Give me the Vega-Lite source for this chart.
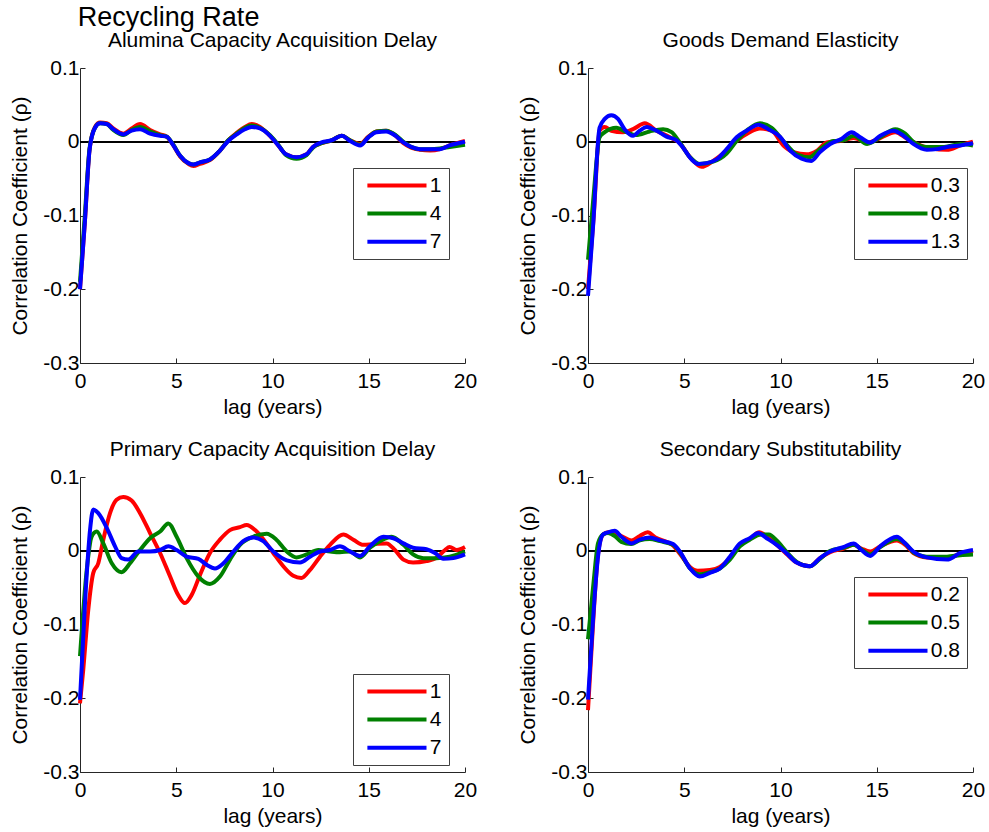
{
  "$schema": "https://vega.github.io/schema/vega-lite/v6.json",
  "background": "white",
  "padding": {"left": 9, "top": 4, "right": 5, "bottom": 5},
  "title": {"text": "Recycling Rate", "anchor": "start", "fontSize": 27, "fontWeight": "normal", "font": "Liberation Sans", "color": "black", "dx": 68, "offset": -2},
  "config": {
    "font": "Liberation Sans",
    "view": {"stroke": null},
    "axis": {
      "grid": false,
      "labelFlush": false,
      "domainColor": "#262626",
      "tickColor": "#262626",
      "tickSize": -5,
      "labelFont": "Liberation Sans",
      "labelFontSize": 21,
      "labelColor": "black",
      "titleFont": "Liberation Sans",
      "titleFontSize": 21,
      "titleFontWeight": "normal",
      "titleColor": "black"
    },
    "axisX": {"labelPadding": 12, "titlePadding": 5},
    "axisY": {"labelPadding": 6, "titlePadding": 12},
    "title": {"font": "Liberation Sans", "fontSize": 21, "fontWeight": "normal", "color": "black", "offset": 6},
    "legend": {
      "orient": "none",
      "strokeColor": "#404040",
      "fillColor": "white",
      "padding": 7,
      "symbolType": "M-0.39,0H7",
      "symbolSize": 256,
      "symbolStrokeWidth": 4,
      "labelFont": "Liberation Sans",
      "labelFontSize": 21,
      "labelColor": "black",
      "labelOffset": 48.7,
      "rowPadding": 6.1
    },
    "line": {"strokeWidth": 4, "interpolate": "monotone"}
  },
  "resolve": {"scale": {"color": "independent"}, "legend": {"color": "independent"}},
  "spacing": 22,
  "datasets": {
    "p1": [
      {"lag": 0, "rho": -0.2, "param": "1"}, {"lag": 0.25, "rho": -0.11, "param": "1"}, {"lag": 0.5, "rho": -0.01, "param": "1"}, {"lag": 0.78, "rho": 0.02, "param": "1"}, {"lag": 1.04, "rho": 0.026, "param": "1"}, {"lag": 1.39, "rho": 0.025, "param": "1"}, {"lag": 1.73, "rho": 0.018, "param": "1"}, {"lag": 2.25, "rho": 0.011, "param": "1"}, {"lag": 2.68, "rho": 0.018, "param": "1"}, {"lag": 3.12, "rho": 0.024, "param": "1"}, {"lag": 3.64, "rho": 0.016, "param": "1"}, {"lag": 4.16, "rho": 0.01, "param": "1"}, {"lag": 4.5, "rho": 0.007, "param": "1"}, {"lag": 4.85, "rho": -0.005, "param": "1"}, {"lag": 5.2, "rho": -0.02, "param": "1"}, {"lag": 5.63, "rho": -0.03, "param": "1"}, {"lag": 5.89, "rho": -0.033, "param": "1"}, {"lag": 6.23, "rho": -0.03, "param": "1"}, {"lag": 6.75, "rho": -0.025, "param": "1"}, {"lag": 7.27, "rho": -0.012, "param": "1"}, {"lag": 7.7, "rho": 0.002, "param": "1"}, {"lag": 8.14, "rho": 0.012, "param": "1"}, {"lag": 8.57, "rho": 0.02, "param": "1"}, {"lag": 8.92, "rho": 0.024, "param": "1"}, {"lag": 9.35, "rho": 0.02, "param": "1"}, {"lag": 9.87, "rho": 0.008, "param": "1"}, {"lag": 10.3, "rho": -0.005, "param": "1"}, {"lag": 10.7, "rho": -0.017, "param": "1"}, {"lag": 11.25, "rho": -0.021, "param": "1"}, {"lag": 11.77, "rho": -0.017, "param": "1"}, {"lag": 12.1, "rho": -0.007, "param": "1"}, {"lag": 12.55, "rho": -0.002, "param": "1"}, {"lag": 13.07, "rho": 0.002, "param": "1"}, {"lag": 13.6, "rho": 0.008, "param": "1"}, {"lag": 14.03, "rho": 0.002, "param": "1"}, {"lag": 14.55, "rho": -0.003, "param": "1"}, {"lag": 14.98, "rho": 0.007, "param": "1"}, {"lag": 15.4, "rho": 0.014, "param": "1"}, {"lag": 15.9, "rho": 0.015, "param": "1"}, {"lag": 16.4, "rho": 0.008, "param": "1"}, {"lag": 16.8, "rho": -0.002, "param": "1"}, {"lag": 17.2, "rho": -0.008, "param": "1"}, {"lag": 17.66, "rho": -0.011, "param": "1"}, {"lag": 18.2, "rho": -0.012, "param": "1"}, {"lag": 18.7, "rho": -0.01, "param": "1"}, {"lag": 19.2, "rho": -0.005, "param": "1"}, {"lag": 20, "rho": 0.001, "param": "1"},
      {"lag": 0, "rho": -0.19, "param": "4"}, {"lag": 0.25, "rho": -0.1, "param": "4"}, {"lag": 0.5, "rho": -0.008, "param": "4"}, {"lag": 0.78, "rho": 0.019, "param": "4"}, {"lag": 1.04, "rho": 0.025, "param": "4"}, {"lag": 1.39, "rho": 0.024, "param": "4"}, {"lag": 1.73, "rho": 0.016, "param": "4"}, {"lag": 2.25, "rho": 0.009, "param": "4"}, {"lag": 2.68, "rho": 0.016, "param": "4"}, {"lag": 3.12, "rho": 0.02, "param": "4"}, {"lag": 3.64, "rho": 0.014, "param": "4"}, {"lag": 4.16, "rho": 0.009, "param": "4"}, {"lag": 4.5, "rho": 0.007, "param": "4"}, {"lag": 4.85, "rho": -0.004, "param": "4"}, {"lag": 5.2, "rho": -0.019, "param": "4"}, {"lag": 5.63, "rho": -0.029, "param": "4"}, {"lag": 5.89, "rho": -0.031, "param": "4"}, {"lag": 6.23, "rho": -0.028, "param": "4"}, {"lag": 6.75, "rho": -0.024, "param": "4"}, {"lag": 7.27, "rho": -0.012, "param": "4"}, {"lag": 7.7, "rho": 0.002, "param": "4"}, {"lag": 8.14, "rho": 0.011, "param": "4"}, {"lag": 8.57, "rho": 0.019, "param": "4"}, {"lag": 8.92, "rho": 0.022, "param": "4"}, {"lag": 9.35, "rho": 0.019, "param": "4"}, {"lag": 9.87, "rho": 0.009, "param": "4"}, {"lag": 10.3, "rho": -0.004, "param": "4"}, {"lag": 10.7, "rho": -0.018, "param": "4"}, {"lag": 11.25, "rho": -0.023, "param": "4"}, {"lag": 11.77, "rho": -0.018, "param": "4"}, {"lag": 12.1, "rho": -0.008, "param": "4"}, {"lag": 12.55, "rho": -0.002, "param": "4"}, {"lag": 13.07, "rho": 0.002, "param": "4"}, {"lag": 13.6, "rho": 0.008, "param": "4"}, {"lag": 14.03, "rho": 0.002, "param": "4"}, {"lag": 14.55, "rho": -0.004, "param": "4"}, {"lag": 14.98, "rho": 0.006, "param": "4"}, {"lag": 15.4, "rho": 0.014, "param": "4"}, {"lag": 15.9, "rho": 0.015, "param": "4"}, {"lag": 16.4, "rho": 0.009, "param": "4"}, {"lag": 16.8, "rho": 0.0, "param": "4"}, {"lag": 17.2, "rho": -0.007, "param": "4"}, {"lag": 17.66, "rho": -0.01, "param": "4"}, {"lag": 18.2, "rho": -0.01, "param": "4"}, {"lag": 18.7, "rho": -0.009, "param": "4"}, {"lag": 19.2, "rho": -0.007, "param": "4"}, {"lag": 20, "rho": -0.004, "param": "4"},
      {"lag": 0, "rho": -0.2, "param": "7"}, {"lag": 0.25, "rho": -0.11, "param": "7"}, {"lag": 0.5, "rho": -0.01, "param": "7"}, {"lag": 0.78, "rho": 0.019, "param": "7"}, {"lag": 1.04, "rho": 0.025, "param": "7"}, {"lag": 1.39, "rho": 0.024, "param": "7"}, {"lag": 1.73, "rho": 0.017, "param": "7"}, {"lag": 2.25, "rho": 0.01, "param": "7"}, {"lag": 2.68, "rho": 0.015, "param": "7"}, {"lag": 3.12, "rho": 0.017, "param": "7"}, {"lag": 3.64, "rho": 0.011, "param": "7"}, {"lag": 4.16, "rho": 0.008, "param": "7"}, {"lag": 4.5, "rho": 0.007, "param": "7"}, {"lag": 4.85, "rho": -0.005, "param": "7"}, {"lag": 5.2, "rho": -0.019, "param": "7"}, {"lag": 5.63, "rho": -0.029, "param": "7"}, {"lag": 5.89, "rho": -0.031, "param": "7"}, {"lag": 6.23, "rho": -0.028, "param": "7"}, {"lag": 6.75, "rho": -0.024, "param": "7"}, {"lag": 7.27, "rho": -0.012, "param": "7"}, {"lag": 7.7, "rho": 0.001, "param": "7"}, {"lag": 8.14, "rho": 0.01, "param": "7"}, {"lag": 8.57, "rho": 0.017, "param": "7"}, {"lag": 8.92, "rho": 0.02, "param": "7"}, {"lag": 9.35, "rho": 0.018, "param": "7"}, {"lag": 9.87, "rho": 0.008, "param": "7"}, {"lag": 10.3, "rho": -0.005, "param": "7"}, {"lag": 10.7, "rho": -0.017, "param": "7"}, {"lag": 11.25, "rho": -0.021, "param": "7"}, {"lag": 11.77, "rho": -0.017, "param": "7"}, {"lag": 12.1, "rho": -0.007, "param": "7"}, {"lag": 12.55, "rho": -0.001, "param": "7"}, {"lag": 13.07, "rho": 0.002, "param": "7"}, {"lag": 13.6, "rho": 0.008, "param": "7"}, {"lag": 14.03, "rho": 0.001, "param": "7"}, {"lag": 14.55, "rho": -0.005, "param": "7"}, {"lag": 14.98, "rho": 0.006, "param": "7"}, {"lag": 15.4, "rho": 0.013, "param": "7"}, {"lag": 15.9, "rho": 0.014, "param": "7"}, {"lag": 16.4, "rho": 0.008, "param": "7"}, {"lag": 16.8, "rho": -0.001, "param": "7"}, {"lag": 17.2, "rho": -0.007, "param": "7"}, {"lag": 17.66, "rho": -0.01, "param": "7"}, {"lag": 18.2, "rho": -0.01, "param": "7"}, {"lag": 18.7, "rho": -0.01, "param": "7"}, {"lag": 19.2, "rho": -0.005, "param": "7"}, {"lag": 20, "rho": 0.0, "param": "7"}
    ],
    "p2": [
      {"lag": 0, "rho": -0.2, "param": "0.3"}, {"lag": 0.3, "rho": -0.1, "param": "0.3"}, {"lag": 0.6, "rho": 0.015, "param": "0.3"}, {"lag": 0.87, "rho": 0.02, "param": "0.3"}, {"lag": 1.21, "rho": 0.015, "param": "0.3"}, {"lag": 1.82, "rho": 0.013, "param": "0.3"}, {"lag": 2.34, "rho": 0.017, "param": "0.3"}, {"lag": 2.95, "rho": 0.025, "param": "0.3"}, {"lag": 3.56, "rho": 0.015, "param": "0.3"}, {"lag": 4.25, "rho": 0.006, "param": "0.3"}, {"lag": 4.77, "rho": -0.002, "param": "0.3"}, {"lag": 5.3, "rho": -0.021, "param": "0.3"}, {"lag": 5.9, "rho": -0.034, "param": "0.3"}, {"lag": 6.5, "rho": -0.026, "param": "0.3"}, {"lag": 7.2, "rho": -0.012, "param": "0.3"}, {"lag": 7.72, "rho": 0.001, "param": "0.3"}, {"lag": 8.4, "rho": 0.013, "param": "0.3"}, {"lag": 8.93, "rho": 0.018, "param": "0.3"}, {"lag": 9.54, "rho": 0.015, "param": "0.3"}, {"lag": 10.15, "rho": -0.005, "param": "0.3"}, {"lag": 10.67, "rho": -0.014, "param": "0.3"}, {"lag": 11.36, "rho": -0.017, "param": "0.3"}, {"lag": 11.9, "rho": -0.012, "param": "0.3"}, {"lag": 12.4, "rho": -0.001, "param": "0.3"}, {"lag": 13.1, "rho": 0.001, "param": "0.3"}, {"lag": 13.8, "rho": 0.005, "param": "0.3"}, {"lag": 14.5, "rho": -0.001, "param": "0.3"}, {"lag": 15.18, "rho": 0.005, "param": "0.3"}, {"lag": 15.96, "rho": 0.013, "param": "0.3"}, {"lag": 16.57, "rho": 0.004, "param": "0.3"}, {"lag": 17.1, "rho": -0.003, "param": "0.3"}, {"lag": 17.8, "rho": -0.009, "param": "0.3"}, {"lag": 18.65, "rho": -0.011, "param": "0.3"}, {"lag": 19.34, "rho": -0.005, "param": "0.3"}, {"lag": 20, "rho": 0.0, "param": "0.3"},
      {"lag": 0, "rho": -0.16, "param": "0.8"}, {"lag": 0.3, "rho": -0.07, "param": "0.8"}, {"lag": 0.6, "rho": 0.006, "param": "0.8"}, {"lag": 0.87, "rho": 0.013, "param": "0.8"}, {"lag": 1.47, "rho": 0.019, "param": "0.8"}, {"lag": 2.0, "rho": 0.013, "param": "0.8"}, {"lag": 2.5, "rho": 0.009, "param": "0.8"}, {"lag": 3.2, "rho": 0.014, "param": "0.8"}, {"lag": 3.9, "rho": 0.017, "param": "0.8"}, {"lag": 4.34, "rho": 0.013, "param": "0.8"}, {"lag": 4.77, "rho": -0.001, "param": "0.8"}, {"lag": 5.3, "rho": -0.021, "param": "0.8"}, {"lag": 5.8, "rho": -0.03, "param": "0.8"}, {"lag": 6.5, "rho": -0.027, "param": "0.8"}, {"lag": 7.2, "rho": -0.016, "param": "0.8"}, {"lag": 7.72, "rho": 0.001, "param": "0.8"}, {"lag": 8.33, "rho": 0.017, "param": "0.8"}, {"lag": 8.93, "rho": 0.025, "param": "0.8"}, {"lag": 9.54, "rho": 0.019, "param": "0.8"}, {"lag": 10.15, "rho": 0.001, "param": "0.8"}, {"lag": 10.84, "rho": -0.017, "param": "0.8"}, {"lag": 11.5, "rho": -0.021, "param": "0.8"}, {"lag": 12.05, "rho": -0.01, "param": "0.8"}, {"lag": 12.75, "rho": 0.001, "param": "0.8"}, {"lag": 13.27, "rho": 0.002, "param": "0.8"}, {"lag": 13.8, "rho": 0.008, "param": "0.8"}, {"lag": 14.5, "rho": -0.003, "param": "0.8"}, {"lag": 15.18, "rho": 0.006, "param": "0.8"}, {"lag": 15.96, "rho": 0.017, "param": "0.8"}, {"lag": 16.48, "rho": 0.011, "param": "0.8"}, {"lag": 16.9, "rho": 0.0, "param": "0.8"}, {"lag": 17.6, "rho": -0.007, "param": "0.8"}, {"lag": 18.5, "rho": -0.007, "param": "0.8"}, {"lag": 19.34, "rho": -0.003, "param": "0.8"}, {"lag": 20, "rho": -0.005, "param": "0.8"},
      {"lag": 0, "rho": -0.209, "param": "1.3"}, {"lag": 0.26, "rho": -0.116, "param": "1.3"}, {"lag": 0.6, "rho": 0.019, "param": "1.3"}, {"lag": 0.87, "rho": 0.031, "param": "1.3"}, {"lag": 1.21, "rho": 0.036, "param": "1.3"}, {"lag": 1.56, "rho": 0.031, "param": "1.3"}, {"lag": 1.9, "rho": 0.017, "param": "1.3"}, {"lag": 2.34, "rho": 0.008, "param": "1.3"}, {"lag": 2.69, "rho": 0.015, "param": "1.3"}, {"lag": 3.04, "rho": 0.02, "param": "1.3"}, {"lag": 3.56, "rho": 0.015, "param": "1.3"}, {"lag": 4.08, "rho": 0.007, "param": "1.3"}, {"lag": 4.6, "rho": 0.002, "param": "1.3"}, {"lag": 4.94, "rho": -0.008, "param": "1.3"}, {"lag": 5.38, "rho": -0.024, "param": "1.3"}, {"lag": 5.72, "rho": -0.03, "param": "1.3"}, {"lag": 6.16, "rho": -0.029, "param": "1.3"}, {"lag": 6.68, "rho": -0.024, "param": "1.3"}, {"lag": 7.2, "rho": -0.01, "param": "1.3"}, {"lag": 7.72, "rho": 0.006, "param": "1.3"}, {"lag": 8.24, "rho": 0.015, "param": "1.3"}, {"lag": 8.85, "rho": 0.023, "param": "1.3"}, {"lag": 9.37, "rho": 0.017, "param": "1.3"}, {"lag": 9.97, "rho": 0.007, "param": "1.3"}, {"lag": 10.5, "rho": -0.012, "param": "1.3"}, {"lag": 11.1, "rho": -0.023, "param": "1.3"}, {"lag": 11.6, "rho": -0.026, "param": "1.3"}, {"lag": 12.05, "rho": -0.014, "param": "1.3"}, {"lag": 12.58, "rho": -0.003, "param": "1.3"}, {"lag": 13.18, "rho": 0.004, "param": "1.3"}, {"lag": 13.7, "rho": 0.013, "param": "1.3"}, {"lag": 14.14, "rho": 0.006, "param": "1.3"}, {"lag": 14.66, "rho": -0.001, "param": "1.3"}, {"lag": 15.18, "rho": 0.008, "param": "1.3"}, {"lag": 15.87, "rho": 0.015, "param": "1.3"}, {"lag": 16.4, "rho": 0.008, "param": "1.3"}, {"lag": 16.9, "rho": -0.003, "param": "1.3"}, {"lag": 17.6, "rho": -0.011, "param": "1.3"}, {"lag": 18.13, "rho": -0.01, "param": "1.3"}, {"lag": 18.65, "rho": -0.007, "param": "1.3"}, {"lag": 19.34, "rho": -0.005, "param": "1.3"}, {"lag": 20, "rho": -0.002, "param": "1.3"}
    ],
    "p3": [
      {"lag": 0, "rho": -0.207, "param": "1"}, {"lag": 0.17, "rho": -0.161, "param": "1"}, {"lag": 0.43, "rho": -0.08, "param": "1"}, {"lag": 0.69, "rho": -0.03, "param": "1"}, {"lag": 0.95, "rho": -0.017, "param": "1"}, {"lag": 1.21, "rho": 0.015, "param": "1"}, {"lag": 1.56, "rho": 0.051, "param": "1"}, {"lag": 1.9, "rho": 0.069, "param": "1"}, {"lag": 2.25, "rho": 0.073, "param": "1"}, {"lag": 2.68, "rho": 0.068, "param": "1"}, {"lag": 3.12, "rho": 0.051, "param": "1"}, {"lag": 3.64, "rho": 0.024, "param": "1"}, {"lag": 4.16, "rho": -0.003, "param": "1"}, {"lag": 4.68, "rho": -0.035, "param": "1"}, {"lag": 5.1, "rho": -0.06, "param": "1"}, {"lag": 5.45, "rho": -0.071, "param": "1"}, {"lag": 5.8, "rho": -0.06, "param": "1"}, {"lag": 6.23, "rho": -0.033, "param": "1"}, {"lag": 6.75, "rho": -0.003, "param": "1"}, {"lag": 7.27, "rho": 0.015, "param": "1"}, {"lag": 7.79, "rho": 0.028, "param": "1"}, {"lag": 8.31, "rho": 0.032, "param": "1"}, {"lag": 8.66, "rho": 0.035, "param": "1"}, {"lag": 9.1, "rho": 0.028, "param": "1"}, {"lag": 9.6, "rho": 0.013, "param": "1"}, {"lag": 10.04, "rho": -0.003, "param": "1"}, {"lag": 10.56, "rho": -0.021, "param": "1"}, {"lag": 11.08, "rho": -0.034, "param": "1"}, {"lag": 11.5, "rho": -0.037, "param": "1"}, {"lag": 11.95, "rho": -0.026, "param": "1"}, {"lag": 12.47, "rho": -0.008, "param": "1"}, {"lag": 12.99, "rho": 0.008, "param": "1"}, {"lag": 13.68, "rho": 0.022, "param": "1"}, {"lag": 14.2, "rho": 0.015, "param": "1"}, {"lag": 14.72, "rho": 0.008, "param": "1"}, {"lag": 15.24, "rho": 0.009, "param": "1"}, {"lag": 15.93, "rho": 0.01, "param": "1"}, {"lag": 16.36, "rho": 0.001, "param": "1"}, {"lag": 16.8, "rho": -0.012, "param": "1"}, {"lag": 17.3, "rho": -0.016, "param": "1"}, {"lag": 18.0, "rho": -0.014, "param": "1"}, {"lag": 18.5, "rho": -0.01, "param": "1"}, {"lag": 18.96, "rho": 0.001, "param": "1"}, {"lag": 19.2, "rho": 0.005, "param": "1"}, {"lag": 19.57, "rho": 0.001, "param": "1"}, {"lag": 20, "rho": 0.005, "param": "1"},
      {"lag": 0, "rho": -0.143, "param": "4"}, {"lag": 0.35, "rho": -0.026, "param": "4"}, {"lag": 0.6, "rho": 0.019, "param": "4"}, {"lag": 0.87, "rho": 0.026, "param": "4"}, {"lag": 1.21, "rho": 0.01, "param": "4"}, {"lag": 1.65, "rho": -0.017, "param": "4"}, {"lag": 2.16, "rho": -0.029, "param": "4"}, {"lag": 2.6, "rho": -0.017, "param": "4"}, {"lag": 3.12, "rho": 0.001, "param": "4"}, {"lag": 3.64, "rho": 0.017, "param": "4"}, {"lag": 4.16, "rho": 0.026, "param": "4"}, {"lag": 4.59, "rho": 0.037, "param": "4"}, {"lag": 5.02, "rho": 0.019, "param": "4"}, {"lag": 5.54, "rho": -0.01, "param": "4"}, {"lag": 6.15, "rho": -0.035, "param": "4"}, {"lag": 6.75, "rho": -0.045, "param": "4"}, {"lag": 7.27, "rho": -0.035, "param": "4"}, {"lag": 7.79, "rho": -0.012, "param": "4"}, {"lag": 8.31, "rho": 0.008, "param": "4"}, {"lag": 9.0, "rho": 0.019, "param": "4"}, {"lag": 9.7, "rho": 0.023, "param": "4"}, {"lag": 10.2, "rho": 0.015, "param": "4"}, {"lag": 10.74, "rho": -0.001, "param": "4"}, {"lag": 11.25, "rho": -0.009, "param": "4"}, {"lag": 11.77, "rho": -0.005, "param": "4"}, {"lag": 12.38, "rho": 0.001, "param": "4"}, {"lag": 12.99, "rho": -0.001, "param": "4"}, {"lag": 13.5, "rho": -0.002, "param": "4"}, {"lag": 14.03, "rho": -0.001, "param": "4"}, {"lag": 14.55, "rho": -0.009, "param": "4"}, {"lag": 15.06, "rho": 0.004, "param": "4"}, {"lag": 15.58, "rho": 0.013, "param": "4"}, {"lag": 16.19, "rho": 0.019, "param": "4"}, {"lag": 16.8, "rho": 0.008, "param": "4"}, {"lag": 17.3, "rho": -0.005, "param": "4"}, {"lag": 17.84, "rho": -0.01, "param": "4"}, {"lag": 18.5, "rho": -0.01, "param": "4"}, {"lag": 19.2, "rho": -0.008, "param": "4"}, {"lag": 20, "rho": -0.001, "param": "4"},
      {"lag": 0, "rho": -0.202, "param": "7"}, {"lag": 0.26, "rho": -0.071, "param": "7"}, {"lag": 0.52, "rho": 0.028, "param": "7"}, {"lag": 0.69, "rho": 0.056, "param": "7"}, {"lag": 0.95, "rho": 0.051, "param": "7"}, {"lag": 1.39, "rho": 0.031, "param": "7"}, {"lag": 1.82, "rho": 0.006, "param": "7"}, {"lag": 2.16, "rho": -0.01, "param": "7"}, {"lag": 2.51, "rho": -0.012, "param": "7"}, {"lag": 3.03, "rho": -0.001, "param": "7"}, {"lag": 3.64, "rho": -0.001, "param": "7"}, {"lag": 4.16, "rho": 0.001, "param": "7"}, {"lag": 4.59, "rho": 0.006, "param": "7"}, {"lag": 5.02, "rho": 0.001, "param": "7"}, {"lag": 5.54, "rho": -0.008, "param": "7"}, {"lag": 6.15, "rho": -0.011, "param": "7"}, {"lag": 6.58, "rho": -0.019, "param": "7"}, {"lag": 7.01, "rho": -0.024, "param": "7"}, {"lag": 7.45, "rho": -0.017, "param": "7"}, {"lag": 7.97, "rho": -0.001, "param": "7"}, {"lag": 8.48, "rho": 0.013, "param": "7"}, {"lag": 9.0, "rho": 0.018, "param": "7"}, {"lag": 9.52, "rho": 0.013, "param": "7"}, {"lag": 10.04, "rho": -0.001, "param": "7"}, {"lag": 10.74, "rho": -0.013, "param": "7"}, {"lag": 11.43, "rho": -0.016, "param": "7"}, {"lag": 11.95, "rho": -0.008, "param": "7"}, {"lag": 12.47, "rho": -0.001, "param": "7"}, {"lag": 12.99, "rho": 0.001, "param": "7"}, {"lag": 13.5, "rho": 0.006, "param": "7"}, {"lag": 14.03, "rho": -0.001, "param": "7"}, {"lag": 14.55, "rho": -0.007, "param": "7"}, {"lag": 15.06, "rho": 0.006, "param": "7"}, {"lag": 15.76, "rho": 0.019, "param": "7"}, {"lag": 16.28, "rho": 0.017, "param": "7"}, {"lag": 16.8, "rho": 0.01, "param": "7"}, {"lag": 17.3, "rho": 0.004, "param": "7"}, {"lag": 18.0, "rho": 0.002, "param": "7"}, {"lag": 18.44, "rho": -0.003, "param": "7"}, {"lag": 18.87, "rho": -0.011, "param": "7"}, {"lag": 19.4, "rho": -0.01, "param": "7"}, {"lag": 20, "rho": -0.005, "param": "7"}
    ],
    "p4": [
      {"lag": 0, "rho": -0.216, "param": "0.2"}, {"lag": 0.26, "rho": -0.1, "param": "0.2"}, {"lag": 0.52, "rho": -0.005, "param": "0.2"}, {"lag": 0.78, "rho": 0.022, "param": "0.2"}, {"lag": 1.04, "rho": 0.025, "param": "0.2"}, {"lag": 1.39, "rho": 0.024, "param": "0.2"}, {"lag": 1.73, "rho": 0.02, "param": "0.2"}, {"lag": 2.25, "rho": 0.014, "param": "0.2"}, {"lag": 2.69, "rho": 0.02, "param": "0.2"}, {"lag": 3.1, "rho": 0.025, "param": "0.2"}, {"lag": 3.5, "rho": 0.018, "param": "0.2"}, {"lag": 4.42, "rho": 0.007, "param": "0.2"}, {"lag": 4.77, "rho": -0.004, "param": "0.2"}, {"lag": 5.3, "rho": -0.022, "param": "0.2"}, {"lag": 5.7, "rho": -0.027, "param": "0.2"}, {"lag": 6.33, "rho": -0.026, "param": "0.2"}, {"lag": 6.85, "rho": -0.022, "param": "0.2"}, {"lag": 7.37, "rho": -0.01, "param": "0.2"}, {"lag": 7.89, "rho": 0.008, "param": "0.2"}, {"lag": 8.4, "rho": 0.016, "param": "0.2"}, {"lag": 8.9, "rho": 0.025, "param": "0.2"}, {"lag": 9.3, "rho": 0.019, "param": "0.2"}, {"lag": 9.8, "rho": 0.008, "param": "0.2"}, {"lag": 10.3, "rho": -0.004, "param": "0.2"}, {"lag": 10.84, "rho": -0.016, "param": "0.2"}, {"lag": 11.53, "rho": -0.021, "param": "0.2"}, {"lag": 12.05, "rho": -0.01, "param": "0.2"}, {"lag": 12.58, "rho": -0.002, "param": "0.2"}, {"lag": 13.27, "rho": 0.003, "param": "0.2"}, {"lag": 13.8, "rho": 0.008, "param": "0.2"}, {"lag": 14.2, "rho": 0.003, "param": "0.2"}, {"lag": 14.66, "rho": -0.001, "param": "0.2"}, {"lag": 15.18, "rho": 0.006, "param": "0.2"}, {"lag": 16.04, "rho": 0.014, "param": "0.2"}, {"lag": 16.48, "rho": 0.008, "param": "0.2"}, {"lag": 16.9, "rho": -0.003, "param": "0.2"}, {"lag": 17.6, "rho": -0.009, "param": "0.2"}, {"lag": 18.65, "rho": -0.01, "param": "0.2"}, {"lag": 19.34, "rho": -0.004, "param": "0.2"}, {"lag": 20, "rho": 0.0, "param": "0.2"},
      {"lag": 0, "rho": -0.12, "param": "0.5"}, {"lag": 0.3, "rho": -0.04, "param": "0.5"}, {"lag": 0.52, "rho": 0.01, "param": "0.5"}, {"lag": 0.78, "rho": 0.022, "param": "0.5"}, {"lag": 1.04, "rho": 0.024, "param": "0.5"}, {"lag": 1.39, "rho": 0.02, "param": "0.5"}, {"lag": 1.73, "rho": 0.012, "param": "0.5"}, {"lag": 2.25, "rho": 0.009, "param": "0.5"}, {"lag": 2.69, "rho": 0.014, "param": "0.5"}, {"lag": 3.2, "rho": 0.016, "param": "0.5"}, {"lag": 3.73, "rho": 0.013, "param": "0.5"}, {"lag": 4.42, "rho": 0.008, "param": "0.5"}, {"lag": 4.77, "rho": -0.002, "param": "0.5"}, {"lag": 5.3, "rho": -0.024, "param": "0.5"}, {"lag": 5.8, "rho": -0.032, "param": "0.5"}, {"lag": 6.33, "rho": -0.029, "param": "0.5"}, {"lag": 6.85, "rho": -0.024, "param": "0.5"}, {"lag": 7.37, "rho": -0.012, "param": "0.5"}, {"lag": 7.89, "rho": 0.006, "param": "0.5"}, {"lag": 8.4, "rho": 0.015, "param": "0.5"}, {"lag": 9.0, "rho": 0.022, "param": "0.5"}, {"lag": 9.4, "rho": 0.022, "param": "0.5"}, {"lag": 9.8, "rho": 0.014, "param": "0.5"}, {"lag": 10.3, "rho": -0.001, "param": "0.5"}, {"lag": 10.84, "rho": -0.015, "param": "0.5"}, {"lag": 11.53, "rho": -0.021, "param": "0.5"}, {"lag": 12.05, "rho": -0.011, "param": "0.5"}, {"lag": 12.58, "rho": 0.0, "param": "0.5"}, {"lag": 13.27, "rho": 0.004, "param": "0.5"}, {"lag": 13.8, "rho": 0.008, "param": "0.5"}, {"lag": 14.2, "rho": 0.002, "param": "0.5"}, {"lag": 14.66, "rho": -0.005, "param": "0.5"}, {"lag": 15.18, "rho": 0.005, "param": "0.5"}, {"lag": 16.04, "rho": 0.016, "param": "0.5"}, {"lag": 16.48, "rho": 0.01, "param": "0.5"}, {"lag": 16.9, "rho": -0.002, "param": "0.5"}, {"lag": 17.6, "rho": -0.008, "param": "0.5"}, {"lag": 18.65, "rho": -0.008, "param": "0.5"}, {"lag": 19.34, "rho": -0.006, "param": "0.5"}, {"lag": 20, "rho": -0.005, "param": "0.5"},
      {"lag": 0, "rho": -0.202, "param": "0.8"}, {"lag": 0.26, "rho": -0.094, "param": "0.8"}, {"lag": 0.52, "rho": -0.008, "param": "0.8"}, {"lag": 0.78, "rho": 0.022, "param": "0.8"}, {"lag": 1.04, "rho": 0.025, "param": "0.8"}, {"lag": 1.39, "rho": 0.027, "param": "0.8"}, {"lag": 1.73, "rho": 0.019, "param": "0.8"}, {"lag": 2.25, "rho": 0.01, "param": "0.8"}, {"lag": 2.69, "rho": 0.015, "param": "0.8"}, {"lag": 3.2, "rho": 0.018, "param": "0.8"}, {"lag": 3.73, "rho": 0.014, "param": "0.8"}, {"lag": 4.42, "rho": 0.009, "param": "0.8"}, {"lag": 4.77, "rho": -0.001, "param": "0.8"}, {"lag": 5.3, "rho": -0.024, "param": "0.8"}, {"lag": 5.8, "rho": -0.035, "param": "0.8"}, {"lag": 6.33, "rho": -0.03, "param": "0.8"}, {"lag": 6.85, "rho": -0.024, "param": "0.8"}, {"lag": 7.37, "rho": -0.008, "param": "0.8"}, {"lag": 7.89, "rho": 0.01, "param": "0.8"}, {"lag": 8.4, "rho": 0.017, "param": "0.8"}, {"lag": 8.85, "rho": 0.024, "param": "0.8"}, {"lag": 9.28, "rho": 0.017, "param": "0.8"}, {"lag": 9.8, "rho": 0.008, "param": "0.8"}, {"lag": 10.3, "rho": -0.003, "param": "0.8"}, {"lag": 10.84, "rho": -0.016, "param": "0.8"}, {"lag": 11.53, "rho": -0.021, "param": "0.8"}, {"lag": 12.05, "rho": -0.01, "param": "0.8"}, {"lag": 12.58, "rho": -0.001, "param": "0.8"}, {"lag": 13.27, "rho": 0.005, "param": "0.8"}, {"lag": 13.8, "rho": 0.01, "param": "0.8"}, {"lag": 14.2, "rho": 0.001, "param": "0.8"}, {"lag": 14.66, "rho": -0.007, "param": "0.8"}, {"lag": 15.18, "rho": 0.006, "param": "0.8"}, {"lag": 16.04, "rho": 0.019, "param": "0.8"}, {"lag": 16.48, "rho": 0.01, "param": "0.8"}, {"lag": 16.9, "rho": -0.001, "param": "0.8"}, {"lag": 17.6, "rho": -0.009, "param": "0.8"}, {"lag": 18.65, "rho": -0.012, "param": "0.8"}, {"lag": 19.34, "rho": -0.003, "param": "0.8"}, {"lag": 20, "rho": 0.001, "param": "0.8"}
    ]
  },
  "vconcat": [
    {
      "hconcat": [
        {
          "width": 385, "height": 295,
          "title": "Alumina Capacity Acquisition Delay",
          "data": {"name": "p1"},
          "layer": [
            {"mark": {"type": "rule", "color": "black", "strokeWidth": 1}, "encoding": {"y": {"datum": 0, "type": "quantitative"}}},
            {"mark": "line", "encoding": {
              "x": {"field": "lag", "type": "quantitative", "scale": {"domain": [0, 20], "nice": false}, "axis": {"values": [0, 5, 10, 15, 20], "title": "lag (years)"}},
              "y": {"field": "rho", "type": "quantitative", "scale": {"domain": [-0.3, 0.1], "nice": false, "zero": false}, "axis": {"values": [-0.3, -0.2, -0.1, 0, 0.1], "labelExpr": "'' + datum.value", "title": "Correlation Coefficient (ρ)"}},
              "color": {"field": "param", "type": "nominal", "sort": ["1", "4", "7"], "scale": {"domain": ["1", "4", "7"], "range": ["#ff0000", "#008000", "#0000ff"]}, "legend": {"title": null, "legendX": 273, "legendY": 100}}
            }}
          ]
        },
        {
          "width": 385, "height": 295,
          "title": "Goods Demand Elasticity",
          "data": {"name": "p2"},
          "layer": [
            {"mark": {"type": "rule", "color": "black", "strokeWidth": 1}, "encoding": {"y": {"datum": 0, "type": "quantitative"}}},
            {"mark": "line", "encoding": {
              "x": {"field": "lag", "type": "quantitative", "scale": {"domain": [0, 20], "nice": false}, "axis": {"values": [0, 5, 10, 15, 20], "title": "lag (years)"}},
              "y": {"field": "rho", "type": "quantitative", "scale": {"domain": [-0.3, 0.1], "nice": false, "zero": false}, "axis": {"values": [-0.3, -0.2, -0.1, 0, 0.1], "labelExpr": "'' + datum.value", "title": "Correlation Coefficient (ρ)"}},
              "color": {"field": "param", "type": "nominal", "sort": ["0.3", "0.8", "1.3"], "scale": {"domain": ["0.3", "0.8", "1.3"], "range": ["#ff0000", "#008000", "#0000ff"]}, "legend": {"title": null, "legendX": 266, "legendY": 100}}
            }}
          ]
        }
      ],
      "spacing": 40,
      "resolve": {"scale": {"color": "independent"}, "legend": {"color": "independent"}}
    },
    {
      "hconcat": [
        {
          "width": 385, "height": 295,
          "title": "Primary Capacity Acquisition Delay",
          "data": {"name": "p3"},
          "layer": [
            {"mark": {"type": "rule", "color": "black", "strokeWidth": 1}, "encoding": {"y": {"datum": 0, "type": "quantitative"}}},
            {"mark": "line", "encoding": {
              "x": {"field": "lag", "type": "quantitative", "scale": {"domain": [0, 20], "nice": false}, "axis": {"values": [0, 5, 10, 15, 20], "title": "lag (years)"}},
              "y": {"field": "rho", "type": "quantitative", "scale": {"domain": [-0.3, 0.1], "nice": false, "zero": false}, "axis": {"values": [-0.3, -0.2, -0.1, 0, 0.1], "labelExpr": "'' + datum.value", "title": "Correlation Coefficient (ρ)"}},
              "color": {"field": "param", "type": "nominal", "sort": ["1", "4", "7"], "scale": {"domain": ["1", "4", "7"], "range": ["#ff0000", "#008000", "#0000ff"]}, "legend": {"title": null, "legendX": 273, "legendY": 197}}
            }}
          ]
        },
        {
          "width": 385, "height": 295,
          "title": "Secondary Substitutability",
          "data": {"name": "p4"},
          "layer": [
            {"mark": {"type": "rule", "color": "black", "strokeWidth": 1}, "encoding": {"y": {"datum": 0, "type": "quantitative"}}},
            {"mark": "line", "encoding": {
              "x": {"field": "lag", "type": "quantitative", "scale": {"domain": [0, 20], "nice": false}, "axis": {"values": [0, 5, 10, 15, 20], "title": "lag (years)"}},
              "y": {"field": "rho", "type": "quantitative", "scale": {"domain": [-0.3, 0.1], "nice": false, "zero": false}, "axis": {"values": [-0.3, -0.2, -0.1, 0, 0.1], "labelExpr": "'' + datum.value", "title": "Correlation Coefficient (ρ)"}},
              "color": {"field": "param", "type": "nominal", "sort": ["0.2", "0.5", "0.8"], "scale": {"domain": ["0.2", "0.5", "0.8"], "range": ["#ff0000", "#008000", "#0000ff"]}, "legend": {"title": null, "legendX": 266, "legendY": 100}}
            }}
          ]
        }
      ],
      "spacing": 40,
      "resolve": {"scale": {"color": "independent"}, "legend": {"color": "independent"}}
    }
  ]
}
